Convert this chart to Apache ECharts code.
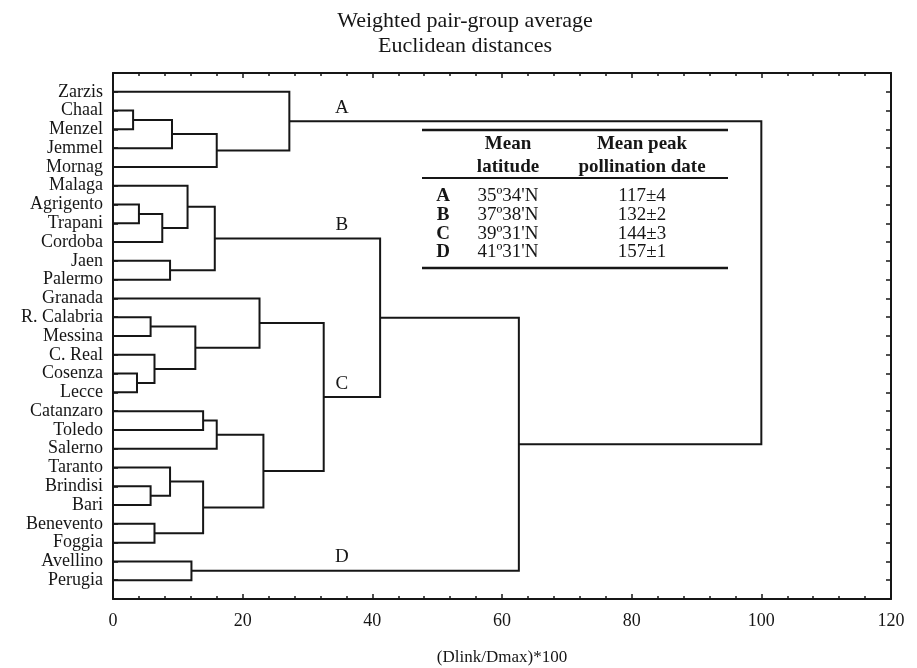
<!DOCTYPE html>
<html><head><meta charset="utf-8">
<script src="https://cdn.jsdelivr.net/npm/echarts@6/dist/echarts.min.js"></script>
<style>html,body{margin:0;padding:0;background:#fff}#c{width:917px;height:668px}</style>
</head><body><div id="c"></div>
<script>
// ---- data ----
const leaves = ['Zarzis','Chaal','Menzel','Jemmel','Mornag','Malaga','Agrigento','Trapani','Cordoba','Jaen','Palermo',
  'Granada','R. Calabria','Messina','C. Real','Cosenza','Lecce','Catanzaro','Toledo','Salerno','Taranto','Brindisi',
  'Bari','Benevento','Foggia','Avellino','Perugia'];
// merges: new cluster ids start at leaves.length (27)
const mergeLeft   = [1, 27, 28, 0,  6, 31, 5,  9,  33, 12, 15, 14, 36, 11, 17, 41, 21, 20, 23, 44, 42, 40, 35, 25, 49, 30];
const mergeRight  = [2, 3,  4,  29, 7, 8,  32, 10, 34, 13, 16, 37, 38, 39, 18, 19, 22, 43, 24, 45, 46, 47, 48, 26, 50, 51];
const mergeHeight = [3.1, 9.1, 16.0, 27.2, 4.0, 7.6, 11.5, 8.8, 15.7, 5.8, 3.7, 6.4, 12.7, 22.6, 13.9, 16.0, 5.8, 8.8, 6.4, 13.9, 23.2, 32.5, 41.2, 12.1, 62.6, 100];
const clusterNames = ['A','B','C','D'];
const clusterNodes = [30, 35, 48, 50];
const titleLines = ['Weighted pair-group average', 'Euclidean distances'];
const xAxisTitle = '(Dlink/Dmax)*100';
const tableHeadLatitude = ['Mean', 'latitude'];
const tableHeadDate = ['Mean peak', 'pollination date'];
const tableGroups = ['A','B','C','D'];
const tableLatitudes = ["35º34'N", "37º38'N", "39º31'N", "41º31'N"];
const tableDates = ['117±4', '132±2', '144±3', '157±1'];

// ---- layout ----
const FF = "'Liberation Serif','Times New Roman',serif";
const INK = '#161616';
const nLeaf = leaves.length;
const nodeX = [], nodeY = [];
leaves.forEach((_, i) => { nodeX[i] = 0; nodeY[i] = i; });
mergeHeight.forEach((h, k) => {
  const a = mergeLeft[k], b = mergeRight[k];
  nodeX[nLeaf + k] = h;
  nodeY[nLeaf + k] = (nodeY[a] + nodeY[b]) / 2;
});
const linkData = mergeHeight.map((h, k) => {
  const a = mergeLeft[k], b = mergeRight[k];
  return [h, nodeY[a], nodeY[b], nodeX[a], nodeX[b]];
});
const labelX = 35.3;
const clusterLabelData = clusterNodes.map(id => [labelX, nodeY[id]]);

function xAx(pos, interval, tickLen, main) {
  return {
    type: 'value', position: pos, min: 0, max: 120, interval: interval,
    axisLine: { show: main, onZero: false, lineStyle: { color: INK, width: 2 } },
    axisTick: { show: true, inside: true, length: tickLen, lineStyle: { color: INK, width: 1.5 } },
    axisLabel: { show: main && pos === 'bottom', fontFamily: FF, fontSize: 18, color: INK, margin: 13 },
    splitLine: { show: false },
    name: (main && pos === 'bottom') ? xAxisTitle : '',
    nameLocation: 'middle', nameGap: 50,
    nameTextStyle: { fontFamily: FF, fontSize: 17, color: INK }
  };
}
function yAx(pos) {
  return {
    type: 'value', position: pos, inverse: true, min: -1, max: 27, interval: 1,
    axisLine: { show: true, onZero: false, lineStyle: { color: INK, width: 2 } },
    axisTick: { show: true, inside: true, length: 5, lineStyle: { color: INK, width: 1.5 } },
    axisLabel: {
      show: pos === 'left', fontFamily: FF, fontSize: 18, color: INK, margin: 10,
      formatter: v => leaves[Math.round(v)] || ''
    },
    splitLine: { show: false }
  };
}

const graphics = [];
titleLines.forEach((t, i) => graphics.push({
  type: 'text', x: 465, y: 21 + i * 25,
  style: { text: t, fill: INK, font: '22px ' + FF, align: 'center', verticalAlign: 'middle', textAlign: 'center', textVerticalAlign: 'middle' }
}));
const tL = 422, tR = 728;
[[130, 2.5], [178, 2], [268, 2.5]].forEach(([y, w]) => graphics.push({
  type: 'line', shape: { x1: tL, y1: y, x2: tR, y2: y }, style: { stroke: INK, lineWidth: w }
}));
function txt(t, x, y, bold) {
  graphics.push({ type: 'text', x: x, y: y,
    style: { text: t, fill: INK, font: (bold ? 'bold ' : '') + '19px ' + FF, align: 'center', verticalAlign: 'middle', textAlign: 'center', textVerticalAlign: 'middle' } });
}
tableHeadLatitude.forEach((t, i) => txt(t, 508, 144 + i * 23.5, true));
tableHeadDate.forEach((t, i) => txt(t, 642, 144 + i * 23.5, true));
tableGroups.forEach((g, i) => {
  const y = 196 + i * 18.8;
  txt(g, 443, y, true);
  txt(tableLatitudes[i], 508, y, false);
  txt(tableDates[i], 642, y, false);
});

const chart = echarts.init(document.getElementById('c'), null, { renderer: 'canvas' });
chart.setOption({
  animation: false,
  backgroundColor: '#fff',
  grid: { left: 113, right: 26, top: 73, bottom: 69, containLabel: false, outerBoundsMode: 'none' },
  xAxis: [xAx('bottom', 20, 5, true), xAx('bottom', 4, 3, false), xAx('top', 20, 5, true), xAx('top', 4, 3, false)],
  yAxis: [yAx('left'), yAx('right')],
  graphic: graphics,
  series: [
    {
      type: 'custom', xAxisIndex: 0, yAxisIndex: 0, clip: false, silent: true,
      data: linkData,
      renderItem: (params, api) => {
        const h = api.value(0), ya = api.value(1), yb = api.value(2), xa = api.value(3), xb = api.value(4);
        const pts = [api.coord([xa, ya]), api.coord([h, ya]), api.coord([h, yb]), api.coord([xb, yb])];
        return { type: 'polyline', shape: { points: pts }, style: { stroke: INK, lineWidth: 2, fill: null } };
      }
    },
    {
      type: 'custom', xAxisIndex: 0, yAxisIndex: 0, clip: false, silent: true,
      data: clusterLabelData,
      renderItem: (params, api) => {
        const p = api.coord([api.value(0), api.value(1)]);
        return { type: 'text', x: p[0], y: p[1] - 4,
          style: { text: clusterNames[params.dataIndex], fill: INK, font: '19px ' + FF, align: 'center', verticalAlign: 'bottom' } };
      }
    }
  ]
});
</script>
</body></html>
